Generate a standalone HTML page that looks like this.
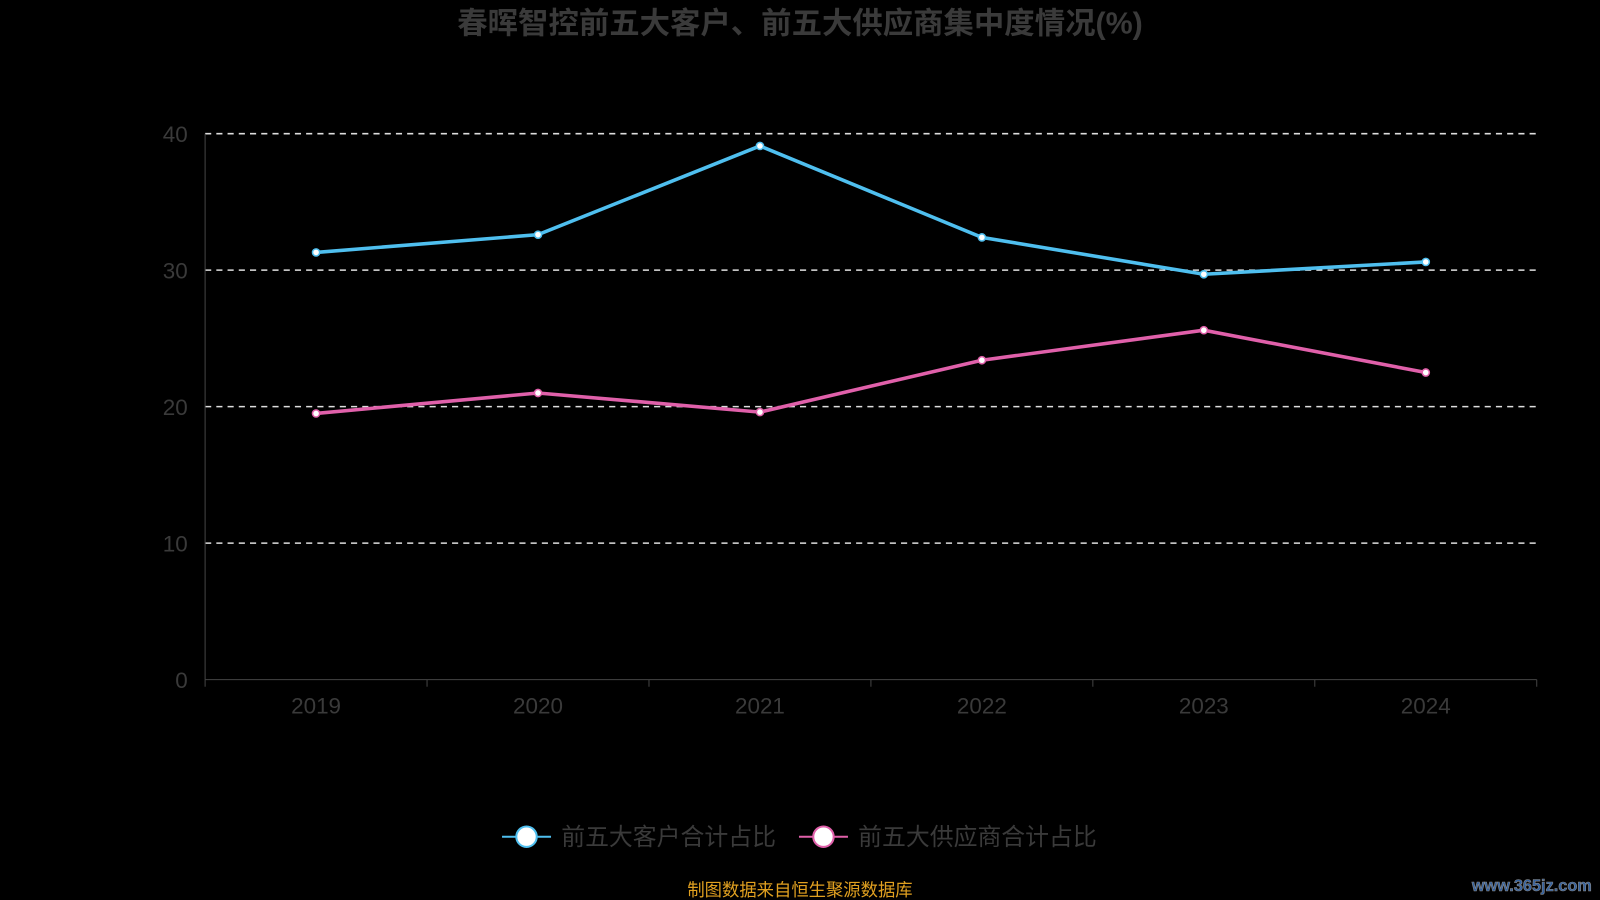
<!DOCTYPE html>
<html><head><meta charset="utf-8"><style>
html,body{margin:0;padding:0;background:#000;}
svg{display:block;font-family:"Liberation Sans","Noto Sans CJK SC",sans-serif;}
</style></head><body>
<svg width="1600" height="900" viewBox="0 0 1568 882">
<rect width="1568" height="882" fill="#000"/>
<text x="784" y="33" text-anchor="middle" font-size="29.8" font-weight="bold" fill="#3a3a3a">春晖智控前五大客户、前五大供应商集中度情况(%)</text>
<g id="grid"></g><g id="axes"></g><g id="series"></g>
<g>
<g>
<line x1="492" y1="820" x2="540" y2="820" stroke="#4fbfef" stroke-width="2"/>
<circle cx="516" cy="820" r="10" fill="#fff" stroke="#4fbfef" stroke-width="2"/>
<text x="550" y="828" font-size="23.4" fill="#3a3a3a">前五大客户合计占比</text></g>
<g>
<line x1="783" y1="820" x2="831" y2="820" stroke="#e060aa" stroke-width="2"/>
<circle cx="807" cy="820" r="10" fill="#fff" stroke="#e060aa" stroke-width="2"/>
<text x="841" y="828" font-size="23.4" fill="#3a3a3a">前五大供应商合计占比</text></g>
</g>
<text x="784" y="878" text-anchor="middle" font-size="17" fill="#e0a020">制图数据来自恒生聚源数据库</text>
<text x="1560" y="873" text-anchor="end" font-size="16" font-weight="bold" fill="#3060a0" stroke="#888" stroke-width="0.6">www.365jz.com</text>
</svg>
<script>
const categories=["2019","2020","2021","2022","2023","2024"];
const customerValues=[31.3,32.6,39.1,32.4,29.7,30.6];
const supplierValues=[19.5,21.0,19.6,23.4,25.6,22.5];
const yTicks=[0,10,20,30,40];
const NS="http://www.w3.org/2000/svg";
const x0=201,x1=1506,y0=666,yTop=131,yMax=40;
const bw=(x1-x0)/categories.length;
const xS=i=>x0+bw*(i+0.5);
const yS=v=>y0-(v/yMax)*(y0-yTop);
function mk(t,a,p){const e=document.createElementNS(NS,t);for(const k in a)e.setAttribute(k,a[k]);p.appendChild(e);return e;}
const grid=document.getElementById('grid'),axes=document.getElementById('axes'),ser=document.getElementById('series');
yTicks.forEach(v=>{
 if(v>0){const l=mk('line',{x1:x0,x2:x1,y1:yS(v),y2:yS(v),stroke:'#ddd','stroke-dasharray':'6,5','stroke-width':1.5},grid);
 
 }
 const t=mk('text',{x:184,y:yS(v)+8,'text-anchor':'end','font-size':22,fill:'#3a3a3a'},axes);t.textContent=v;
 
 
});
const ya=mk('line',{x1:x0,x2:x0,y1:yTop,y2:y0,stroke:'#444'},axes);


const xa=mk('line',{x1:x0,x2:x1,y1:y0,y2:y0,stroke:'#444'},axes);


for(let i=0;i<=categories.length;i++){mk('line',{x1:x0+bw*i,x2:x0+bw*i,y1:y0,y2:y0+7,stroke:'#444'},axes);}
categories.forEach((c,i)=>{const t=mk('text',{x:xS(i),y:699,'text-anchor':'middle','font-size':22,fill:'#3a3a3a'},axes);t.textContent=c;
 
 });
function draw(vals,color,name){
 const p=mk('polyline',{points:vals.map((v,i)=>xS(i)+','+yS(v)).join(' '),fill:'none',stroke:color,'stroke-width':3.5},ser);
 
 
 vals.forEach((v,i)=>{const c=mk('circle',{cx:xS(i),cy:yS(v),r:3.5,fill:'#fff',stroke:color,'stroke-width':1.5},ser);
  
  });
}
draw(customerValues,'#4fbfef','customers');
draw(supplierValues,'#e060aa','suppliers');
</script>
</body></html>
